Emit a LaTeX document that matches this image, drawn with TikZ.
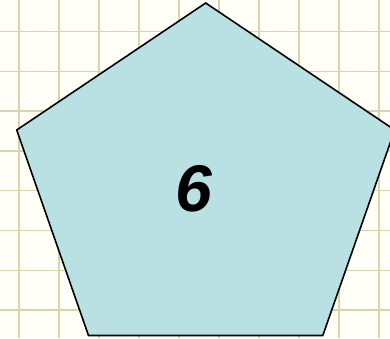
\documentclass[tikz,border=0pt]{standalone}
\usepackage{fontspec}
\setmainfont{Liberation Sans}
\usepackage{xcolor}
\usepackage{tikz}
\definecolor{paper}  {HTML}{FFFFF7}
\definecolor{gridcol}{HTML}{D5D7AA}
\definecolor{pentcol}{HTML}{B9E0E3}

\begin{document}
\begin{tikzpicture}[
    x=1pt, y=-1pt,
    gridline/.style = {draw=gridcol, line width=1.5pt},
    pent/.style     = {draw=black, fill=pentcol, line width=1.6pt,
                       line join=miter},
    numlbl/.style   = {font=\fontsize{66}{66}\selectfont\bfseries\itshape,
                       inner sep=0pt}
  ]

  %% paper and clip
  \fill[paper] (0,0) rectangle (390,338);
  \useasboundingbox (0,0) rectangle (390,338);
  \clip (0,0) rectangle (390,338);

  %% grid
  \foreach \gx in {0,...,9}
    \draw[gridline] ({19+40*\gx},0) -- ({19+40*\gx},338);
  \foreach \gy in {0,...,7}
    \draw[gridline] (0,{31.5+39.8*\gy}) -- (390,{31.5+39.8*\gy});

  %% pentagon
  \coordinate (top) at (205.7,3);
  \coordinate (lft) at (16.7,130);
  \coordinate (rgt) at (394.7,130);
  \coordinate (bl)  at (88.5,335.5);
  \coordinate (br)  at (322.8,335.5);
  \path[pent] (top) -- (rgt) -- (br) -- (bl) -- (lft) -- cycle;

  %% label
  \node[numlbl] (six) at (194,189) {6};

\end{tikzpicture}
\end{document}
